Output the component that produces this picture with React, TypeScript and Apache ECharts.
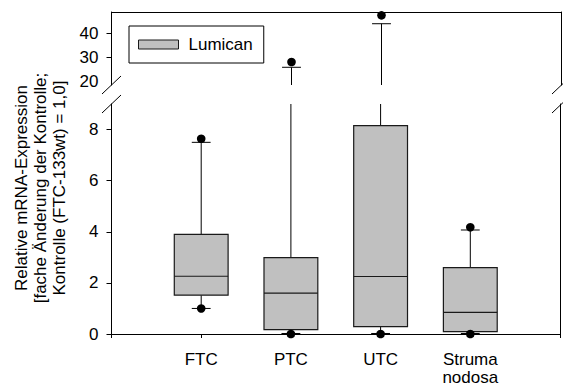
import React, { useEffect, useRef } from "react";
import * as echarts from "echarts";

// Lumican mRNA expression per tumour group (box plot summary values)
const categories = ["FTC", "PTC", "UTC", "Struma\nnodosa"];
const lowerWhisker = [1.0, 0.02, 0.02, 0.02];
const q1 = [1.52, 0.17, 0.29, 0.09];
const median = [2.26, 1.6, 2.25, 0.85];
const q3 = [3.9, 2.99, 8.15, 2.6];
const upperWhisker = [7.5, 25.9, 44.1, 4.07];
const lowOutlier = [1.0, 0, 0, 0];
const highOutlier = [7.64, 28.1, 47.6, 4.18];

const lowerTicks = [0, 2, 4, 6, 8];
const upperTickLabels = [20, 30, 40];
const upperTicks = [30, 40];
const seriesName = "Lumican";

const FONT = "'Liberation Sans', Arial, Helvetica, sans-serif";
const W = 563;
const H = 387;
const LEFT = 111.5;
const RIGHT = 1.5;
const UPPER_TOP = 12;
const UPPER_H = 73;
const LOWER_TOP = 104;
const LOWER_H = 231;

const boxData = categories.map((_, i) => [
  i + 1,
  lowerWhisker[i],
  q1[i],
  median[i],
  q3[i],
  upperWhisker[i],
  lowOutlier[i],
  highOutlier[i],
]);

function renderBox(params: any, api: any) {
  const cs = params.coordSys;
  const top = cs.y;
  const bottom = cs.y + cs.height;
  const xv = api.value(0);
  const px = api.coord([xv, 0])[0];
  const yOf = (v: number) => api.coord([xv, v])[1];
  const clamp = (y: number) => Math.min(bottom, Math.max(top, y));
  const inside = (y: number) => y >= top - 0.5 && y <= bottom + 0.5;
  const halfBox = api.size([0.6, 0])[0] / 2;
  const halfCap = api.size([0.21, 0])[0] / 2;
  const line = { stroke: "#000", lineWidth: 1 };
  const children: any[] = [];

  const vLine = (a: number, b: number) => {
    const y1 = clamp(yOf(a));
    const y2 = clamp(yOf(b));
    if (Math.abs(y1 - y2) < 0.5) return;
    children.push({
      type: "line",
      shape: { x1: px, y1, x2: px, y2 },
      style: line,
    });
  };
  const hLine = (v: number, half: number, style: any) => {
    const y = yOf(v);
    if (!inside(y)) return;
    children.push({
      type: "line",
      shape: { x1: px - half, y1: y, x2: px + half, y2: y },
      style,
    });
  };

  // whiskers
  vLine(api.value(4), api.value(5));
  vLine(api.value(2), api.value(1));

  // box
  const yTop = clamp(yOf(api.value(4)));
  const yBot = clamp(yOf(api.value(2)));
  if (yBot - yTop > 0.5) {
    children.push({
      type: "rect",
      shape: { x: px - halfBox, y: yTop, width: halfBox * 2, height: yBot - yTop },
      style: { fill: "#c0c0c0", stroke: "#1a1a1a", lineWidth: 1.2 },
    });
  }
  // median
  hLine(api.value(3), halfBox, { stroke: "#1a1a1a", lineWidth: 1.2 });
  // caps
  hLine(api.value(5), halfCap, line);
  hLine(api.value(1), halfCap, line);
  // outliers
  [api.value(6), api.value(7)].forEach((v: number) => {
    const y = yOf(v);
    if (!inside(y)) return;
    children.push({
      type: "circle",
      shape: { cx: px, cy: y, r: 4.3 },
      style: { fill: "#000" },
    });
  });

  return { type: "group", children };
}

const axisText = { fontFamily: FONT, fontSize: 17, color: "#000" };
const blackLine = { show: true, onZero: false, lineStyle: { color: "#000", width: 1 } };

export default function App() {
  const ref = useRef<HTMLDivElement>(null);

  useEffect(() => {
    if (!ref.current) return;
    const chart = echarts.init(ref.current, null, { renderer: "svg" });

    const slash = (cx: number, cy: number) => ({
      type: "line",
      shape: { x1: cx - 9.5, y1: cy + 9, x2: cx + 9.5, y2: cy - 9 },
      style: { stroke: "#000", lineWidth: 1 },
      silent: true,
    });
    const upperBottom = UPPER_TOP + UPPER_H;
    const rightX = W - RIGHT;

    chart.setOption({
      animation: false,
      backgroundColor: "#fff",
      grid: [
        { left: LEFT, right: RIGHT, top: UPPER_TOP, height: UPPER_H },
        { left: LEFT, right: RIGHT, top: LOWER_TOP, height: LOWER_H },
      ],
      xAxis: [
        {
          gridIndex: 0,
          type: "value",
          min: 0,
          max: 5,
          position: "top",
          axisLine: blackLine,
          axisTick: { show: false },
          axisLabel: { show: false },
          splitLine: { show: false },
        },
        {
          gridIndex: 1,
          type: "value",
          min: 0,
          max: 5,
          interval: 1,
          position: "bottom",
          axisLine: blackLine,
          axisTick: { show: true, length: 4, lineStyle: { color: "#000" } },
          axisLabel: {
            ...axisText,
            margin: 16,
            lineHeight: 18.5,
            formatter: (v: number) => categories[v - 1] ?? "",
          },
          splitLine: { show: false },
        },
      ],
      yAxis: [
        {
          gridIndex: 0,
          type: "value",
          min: 18.5,
          max: 49,
          position: "left",
          axisLine: blackLine,
          axisTick: { show: true, length: 5, customValues: upperTicks, lineStyle: { color: "#000" } },
          axisLabel: { ...axisText, margin: 13, customValues: upperTickLabels },
          splitLine: { show: false },
        },
        {
          gridIndex: 0,
          type: "value",
          min: 18.5,
          max: 49,
          position: "right",
          axisLine: blackLine,
          axisTick: { show: false },
          axisLabel: { show: false },
          splitLine: { show: false },
        },
        {
          gridIndex: 1,
          type: "value",
          min: 0,
          max: 9,
          position: "left",
          axisLine: blackLine,
          axisTick: { show: true, length: 5, customValues: lowerTicks, lineStyle: { color: "#000" } },
          axisLabel: { ...axisText, margin: 13, customValues: lowerTicks },
          splitLine: { show: false },
        },
        {
          gridIndex: 1,
          type: "value",
          min: 0,
          max: 9,
          position: "right",
          axisLine: blackLine,
          axisTick: { show: false },
          axisLabel: { show: false },
          splitLine: { show: false },
        },
      ],
      legend: {
        data: [seriesName],
        left: 129,
        top: 26,
        icon: "rect",
        itemWidth: 40,
        itemHeight: 9,
        padding: [10, 11, 10, 9],
        borderColor: "#000",
        borderWidth: 1,
        selectedMode: false,
        itemStyle: { color: "#c0c0c0", borderColor: "#1a1a1a", borderWidth: 1 },
        textStyle: { ...axisText, padding: [0, 0, 0, 5] },
      },
      series: [
        {
          name: seriesName,
          type: "custom",
          xAxisIndex: 0,
          yAxisIndex: 0,
          renderItem: renderBox,
          itemStyle: { color: "#c0c0c0" },
          encode: { x: 0, y: [1, 2, 3, 4, 5, 6, 7] },
          data: boxData,
          z: 3,
        },
        {
          name: seriesName,
          type: "custom",
          xAxisIndex: 1,
          yAxisIndex: 2,
          renderItem: renderBox,
          itemStyle: { color: "#c0c0c0" },
          encode: { x: 0, y: [1, 2, 3, 4, 5, 6, 7] },
          data: boxData,
          z: 3,
        },
      ],
      graphic: [
        {
          type: "text",
          x: 40,
          y: 188,
          rotation: Math.PI / 2,
          style: {
            text: "Relative mRNA-Expression\n[fache Änderung der Kontrolle;\nKontrolle (FTC-133wt) = 1,0]",
            align: "center",
            verticalAlign: "middle",
            fontFamily: FONT,
            fontSize: 17,
            lineHeight: 19,
            fill: "#000",
          },
        },
        slash(LEFT, upperBottom),
        slash(LEFT, LOWER_TOP),
        slash(rightX, upperBottom),
        slash(rightX, LOWER_TOP),
      ],
    });

    return () => chart.dispose();
  }, []);

  return (
    <div
      ref={ref}
      style={{ position: "fixed", left: 0, top: 0, width: W, height: H, background: "#fff" }}
    />
  );
}
